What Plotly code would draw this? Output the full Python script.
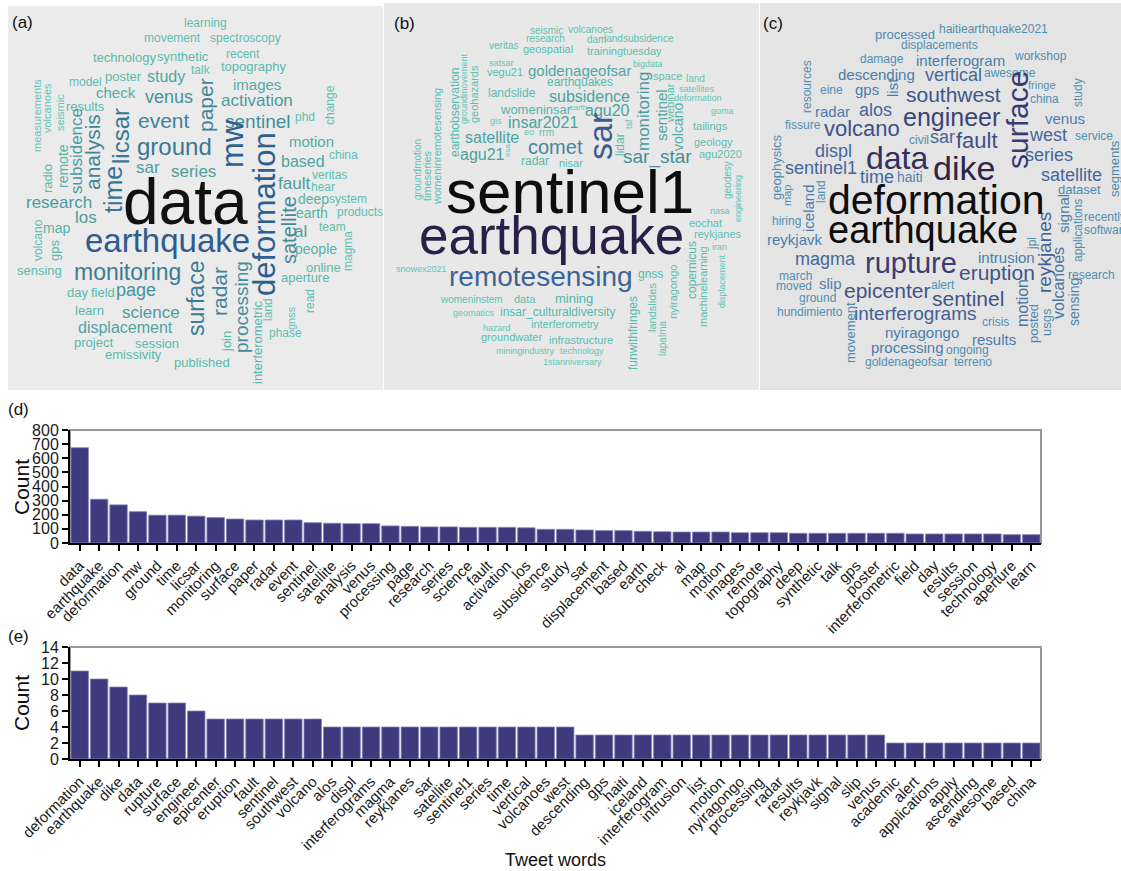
import plotly.graph_objects as go

# ---------------- bar chart data ----------------
words_d = ["data", "earthquake", "deformation", "mw", "ground", "time", "licsar", "monitoring",
           "surface", "paper", "radar", "event", "sentinel", "satellite", "analysis", "venus",
           "processing", "page", "research", "series", "science", "fault", "activation", "los",
           "subsidence", "study", "sar", "displacement", "based", "earth", "check", "al", "map",
           "motion", "images", "remote", "topography", "deep", "synthetic", "talk", "gps", "poster",
           "interferometric", "field", "day", "results", "session", "technology", "aperture", "learn"]
counts_d = [675, 310, 270, 222, 197, 197, 190, 180, 170, 163, 163, 163, 144, 140, 137, 137,
            121, 118, 114, 114, 111, 111, 111, 108, 97, 97, 92, 88, 88, 83, 80, 78, 78,
            78, 73, 73, 73, 69, 69, 69, 69, 69, 69, 64, 64, 64, 64, 64, 59, 59]

words_e = ["deformation", "earthquake", "dike", "data", "rupture", "surface", "engineer", "epicenter",
           "eruption", "fault", "sentinel", "southwest", "volcano", "alos", "displ", "interferograms",
           "magma", "reykjanes", "sar", "satellite", "sentinel1", "series", "time", "vertical",
           "volcanoes", "west", "descending", "gps", "haiti", "iceland", "interferogram", "intrusion",
           "list", "motion", "nyiragongo", "processing", "radar", "results", "reykjavk", "signal",
           "slip", "venus", "academic", "alert", "applications", "apply", "ascending", "awesome",
           "based", "china"]
counts_e = [11, 10, 9, 8, 7, 7, 6, 5, 5, 5, 5, 5, 5,
            4, 4, 4, 4, 4, 4, 4, 4, 4, 4, 4, 4, 4,
            3, 3, 3, 3, 3, 3, 3, 3, 3, 3, 3, 3, 3, 3, 3, 3,
            2, 2, 2, 2, 2, 2, 2, 2]

# ---------------- word cloud data ----------------
# (a)
cloud_a_words = ["learning", "movement", "spectroscopy", "technology", "synthetic", "recent", "topography",
                 "talk", "model", "poster", "study", "images", "check", "venus", "activation", "results",
                 "event", "sentinel", "phd", "ground", "motion", "based", "china", "sar", "series", "fault",
                 "veritas", "hear", "deep", "system", "earth", "products", "research", "los", "map", "data",
                 "earthquake", "monitoring", "sensing", "page", "day", "field", "learn", "science",
                 "displacement", "project", "session", "emissivity", "published", "aperture", "online",
                 "people", "team", "al", "phase",
                 "measurements", "volcanoes", "seismic", "remote", "radio", "subsidence", "analysis", "time",
                 "licsar", "paper", "mw", "deformation", "satellite", "change", "magma", "read", "gnss", "land",
                 "interferometric", "processing", "join", "radar", "surface", "volcano", "gps"]
cloud_a_x = [205, 172, 245, 124, 183, 243, 254, 201, 85, 123, 166, 257, 116, 169, 257, 85, 164, 258, 305,
             174, 311, 303, 343, 148, 193, 294, 329, 323, 313, 348, 312, 360, 59, 86, 56, 185, 167, 127,
             39, 136, 77, 103, 89, 151, 125, 93, 157, 133, 202, 305, 323, 316, 332, 300, 285,
             37, 47, 60, 63, 48, 77, 93, 113, 121, 206, 233, 265, 289, 330, 348, 310, 291, 268, 257,
             241, 226, 219, 196, 38, 55]
cloud_a_y = [23, 38, 38, 58, 57, 54, 67, 70, 82, 77, 77, 85, 93, 97, 101, 107, 121, 122, 117, 147, 142,
             162, 155, 168, 172, 184, 175, 187, 199, 199, 213, 212, 203, 218, 228, 202, 241, 272, 270,
             290, 292, 292, 310, 312, 327, 342, 343, 354, 362, 277, 267, 249, 227, 232, 333,
             116, 108, 113, 166, 179, 151, 152, 190, 136, 105, 144, 214, 230, 105, 251, 301, 318, 310,
             342, 307, 342, 292, 299, 240, 251]
cloud_a_size = [12, 12, 12, 13, 13, 12, 13, 12, 12, 13, 16, 15, 15, 18, 17, 13, 21, 19, 12, 24, 15, 16,
                12, 17, 17, 17, 12, 12, 14, 12, 14, 12, 17, 17, 14, 64, 33, 23, 13, 18, 13, 13, 13, 17,
                16, 13, 13, 13, 13, 13, 13, 14, 12, 17, 12,
                11, 11, 11, 14, 13, 17, 21, 25, 24, 21, 31, 31, 20, 12, 12, 12, 11, 12, 13, 19, 13, 21,
                23, 12, 13]
cloud_a_vert = [0] * 55 + [1] * 25

# (b)
cloud_b_words = ["seismic", "volcanoes", "research", "veritas", "dam", "landsubsidence", "geospatial",
                 "trainingtuesday", "satsar", "vegu21", "goldenageofsar", "bigdata", "space", "land",
                 "earthquakes", "landslide", "subsidence", "satellites", "deformation", "goma", "womeninsar",
                 "earth", "agu20", "gis", "insar2021", "tailings", "satellite", "eo", "rrm", "comet",
                 "geology", "agu21", "radar", "nisar", "sar_star", "agu2020", "sentinel1", "earthquake",
                 "remotesensing", "snowex2021", "gnss", "eochat", "reykjanes", "nasa", "iran", "womeninstem",
                 "data", "mining", "geomatics", "insar_culturaldiversity", "hazard", "interferometry",
                 "groundwater", "infrastructure", "miningindustry", "technology", "1stanniversary",
                 "groundmotion", "timeseries", "womeninremotesensing", "earthobservation", "groundmovement",
                 "geohazards", "esa", "sar", "monitoring", "lidar", "tsf", "sentinel", "webinar", "volcano",
                 "geodesy", "engineering", "copernicus", "machinelearning", "displacement", "nyiragongo",
                 "landslides", "lapalma", "funwithfringes"]
cloud_b_x = [546, 590, 545, 504, 596, 639, 548, 624, 502, 505, 579, 648, 667, 695, 580, 512, 589, 697,
             698, 722, 536, 578, 607, 496, 543, 710, 492, 529, 546, 555, 713, 483, 535, 571, 657, 720,
             570, 551, 541, 422, 650, 705, 718, 720, 719, 472, 525, 574, 474, 557, 497, 565, 512, 581,
             525, 582, 572,
             417, 427, 437, 455, 464, 474, 507, 600, 643, 620, 629, 661, 670, 678, 727, 738, 692, 703,
             722, 673, 652, 662, 633]
cloud_b_y = [30, 29, 38, 45, 39, 38, 49, 51, 63, 72, 70, 64, 76, 78, 82, 93, 96, 89, 98, 111, 109, 107,
             110, 121, 122, 126, 137, 132, 132, 147, 142, 154, 161, 163, 157, 154, 191, 235, 276, 269,
             274, 223, 234, 211, 247, 299, 299, 298, 313, 312, 328, 324, 337, 340, 351, 351, 362,
             169, 175, 146, 112, 88, 94, 150, 137, 112, 145, 124, 115, 103, 127, 180, 199, 270, 287,
             281, 292, 308, 339, 333]
cloud_b_size = [10, 10, 10, 10, 10, 10, 11, 11, 9, 11, 15, 9, 11, 10, 12, 12, 16, 9, 9, 9, 13, 8, 16, 9,
                16, 11, 16, 9, 10, 20, 11, 16, 12, 11, 19, 11, 62, 53, 28, 9, 12, 11, 11, 9, 9, 10, 11,
                13, 9, 12, 9, 11, 11, 11, 9, 9, 9,
                10, 11, 11, 12, 9, 11, 8, 34, 17, 12, 9, 15, 11, 14, 10, 9, 12, 11, 9, 11, 11, 10, 12]
cloud_b_vert = [0] * 57 + [1] * 23

# (c)
cloud_c_words = ["processed", "haitiearthquake2021", "displacements", "damage", "interferogram", "workshop",
                 "descending", "vertical", "awesome", "eine", "gps", "southwest", "fringe", "china", "radar",
                 "alos", "engineer", "venus", "fissure", "volcano", "west", "service", "civil", "sar", "fault",
                 "displ", "data", "dike", "series", "sentinel1", "time", "haiti", "satellite", "dataset",
                 "deformation", "earthquake", "hiring", "reykjavk", "recently", "software", "magma",
                 "rupture", "intrusion", "eruption", "research", "march", "moved", "slip", "epicenter",
                 "alert", "sentinel", "ground", "hundimiento", "interferograms", "crisis", "nyiragongo",
                 "results", "processing", "ongoing", "goldenageofsar", "terreno",
                 "resources", "list", "surface", "study", "geophysics", "map", "iceland", "land", "segments",
                 "signal", "applications", "reykjanes", "volcanoes", "sensing", "jpl", "motion", "posted",
                 "usgs", "movement"]
cloud_c_x = [905, 993, 939, 882, 960, 1040, 876, 953, 1010, 831, 867, 953, 1042, 1044, 832, 875, 951, 1065,
             803, 862, 1048, 1094, 919, 942, 977, 833, 897, 964, 1049, 821, 877, 910, 1071, 1079, 936,
             923, 786, 795, 1105, 1107, 825, 911, 1006, 997, 1091, 795, 794, 830, 887, 943, 968, 817,
             810, 915, 995, 922, 994, 907, 967, 906, 973,
             807, 892, 1017, 1078, 776, 787, 808, 821, 1114, 1063, 1078, 1044, 1058, 1074, 1032, 1022,
             1033, 1046, 850]
cloud_c_y = [34, 29, 45, 59, 60, 56, 74, 75, 73, 90, 89, 94, 85, 99, 111, 110, 117, 118, 125, 128, 135,
             136, 140, 137, 140, 151, 158, 168, 155, 168, 177, 177, 175, 189, 200, 230, 221, 239, 217,
             230, 259, 263, 257, 272, 275, 276, 286, 283, 290, 285, 298, 298, 312, 313, 322, 332, 339,
             347, 350, 362, 362,
             87, 88, 120, 93, 167, 196, 208, 192, 169, 214, 231, 253, 283, 302, 244, 303, 324, 322, 333]
cloud_c_size = [13, 12, 12, 12, 15, 12, 15, 18, 12, 12, 15, 21, 11, 12, 15, 18, 25, 15, 12, 22, 18, 12,
                12, 18, 22, 18, 32, 34, 18, 18, 18, 14, 18, 13, 41, 38, 12, 15, 12, 12, 18, 29, 15, 21,
                12, 12, 12, 15, 21, 12, 21, 12, 12, 19, 12, 15, 15, 15, 12, 12, 12,
                12, 15, 30, 12, 13, 11, 15, 12, 13, 15, 12, 19, 16, 14, 12, 16, 13, 13, 13]
cloud_c_vert = [0] * 61 + [1] * 19

# ---------------- styling helpers ----------------
FONT = "Arial, 'Liberation Sans', sans-serif"

ramp_a = [(11, "#66c6b5"), (13, "#5abaaa"), (16, "#4fa5a2"), (18, "#47939c"), (21, "#3f8596"),
          (24, "#3a7793"), (31, "#2f5f8e"), (34, "#2e5a8b"), (60, "#111111")]
ramp_b = [(9, "#62c7b4"), (12, "#57bbab"), (16, "#4ba2a0"), (20, "#43899a"), (28, "#3d6497"),
          (34, "#3d5a8e"), (53, "#2a1f48"), (62, "#0d0d0d")]
ramp_c = [(11, "#5292b3"), (12, "#5090b2"), (15, "#4b7eaa"), (18, "#45679c"), (21, "#3f5589"),
          (25, "#3b4479"), (30, "#3a3a72"), (34, "#2d2546"), (38, "#0d0d0d")]


def hex2rgb(h):
    h = h.lstrip("#")
    return tuple(int(h[i:i + 2], 16) for i in (0, 2, 4))


def ramp_color(stops, s):
    if s <= stops[0][0]:
        return stops[0][1]
    if s >= stops[-1][0]:
        return stops[-1][1]
    for (s0, c0), (s1, c1) in zip(stops[:-1], stops[1:]):
        if s0 <= s <= s1:
            t = (s - s0) / (s1 - s0)
            a, b = hex2rgb(c0), hex2rgb(c1)
            r = [round(a[i] + (b[i] - a[i]) * t) for i in range(3)]
            return "rgb(%d,%d,%d)" % tuple(r)
    return stops[-1][1]


W, H = 1121, 871
fig = go.Figure()

panels = [
    ("", (8, 383, 6, 390), "#ebebeb", cloud_a_words, cloud_a_x, cloud_a_y, cloud_a_size, cloud_a_vert, ramp_a, "(a)", (22, 23)),
    ("2", (384, 759, 3, 390), "#e8e8e8", cloud_b_words, cloud_b_x, cloud_b_y, cloud_b_size, cloud_b_vert, ramp_b, "(b)", (405, 23)),
    ("3", (760, 1121, 3, 390), "#e4e4e4", cloud_c_words, cloud_c_x, cloud_c_y, cloud_c_size, cloud_c_vert, ramp_c, "(c)", (773, 23)),
]

annotations = []
shapes = []
layout_axes = {}

for suf, (x0, x1, y0, y1), bg, wds, xs, ys, szs, vts, rmp, lab, lpos in panels:
    xa, ya = "x" + suf, "y" + suf
    layout_axes["xaxis" + suf] = dict(domain=[x0 / W, x1 / W], range=[x0, x1], visible=False,
                                      anchor=ya, fixedrange=True)
    layout_axes["yaxis" + suf] = dict(domain=[1 - y1 / H, 1 - y0 / H], range=[y1, y0], visible=False,
                                      anchor=xa, fixedrange=True)
    fig.add_trace(go.Scatter(x=[x0, x1], y=[y0, y1], mode="markers", marker=dict(opacity=0),
                             xaxis=xa, yaxis=ya, hoverinfo="skip", showlegend=False))
    shapes.append(dict(type="rect", xref=xa + " domain", yref=ya + " domain", x0=0, x1=1, y0=0, y1=1,
                       fillcolor=bg, line=dict(width=0), layer="below"))
    for w, x, y, s, v in zip(wds, xs, ys, szs, vts):
        annotations.append(dict(text=w, x=x, y=y, xref=xa, yref=ya, showarrow=False,
                                textangle=-90 if v else 0, xanchor="center", yanchor="middle",
                                borderpad=0,
                                font=dict(family=FONT, size=s, color=ramp_color(rmp, s))))
    annotations.append(dict(text=lab, x=lpos[0], y=lpos[1], xref=xa, yref=ya, showarrow=False,
                            xanchor="center", yanchor="middle",
                            font=dict(family=FONT, size=17, color="#111")))

# ---------------- bar charts ----------------
BAR = "#3e3a7d"
bar_panels = [
    ("4", words_d, counts_d, (430, 543), 800, 100, "(d)", 410, 487),
    ("5", words_e, counts_e, (647, 759), 14, 2, "(e)", 636, 703),
]
for suf, wds, cnts, (top, bot), ymax, dt, lab, laby, county in bar_panels:
    xa, ya = "x" + suf, "y" + suf
    fig.add_trace(go.Bar(x=wds, y=cnts, xaxis=xa, yaxis=ya,
                         marker=dict(color=BAR, line=dict(color="#8a87b8", width=0.8)),
                         showlegend=False))
    layout_axes["xaxis" + suf] = dict(domain=[70 / W, 1041 / W], anchor=ya, type="category",
                                      tickmode="linear", tick0=0, dtick=1, tickangle=-45,
                                      ticks="outside", ticklen=6, tickwidth=2, tickcolor="black",
                                      showline=True, linecolor="black", linewidth=2,
                                      showgrid=False, automargin=False,
                                      tickfont=dict(family=FONT, size=15, color="#1a1a1a"))
    layout_axes["yaxis" + suf] = dict(domain=[1 - bot / H, 1 - top / H], anchor=xa, range=[0, ymax],
                                      dtick=dt, ticks="outside", ticklen=6, tickwidth=2, tickcolor="black",
                                      showline=True, linecolor="black", linewidth=2,
                                      showgrid=False, zeroline=False, automargin=False,
                                      tickfont=dict(family=FONT, size=16, color="#1a1a1a"))
    shapes.append(dict(type="rect", xref=xa + " domain", yref=ya + " domain", x0=0, x1=1, y0=0, y1=1,
                       line=dict(color="#999999", width=2), fillcolor="rgba(0,0,0,0)", layer="below"))
    annotations.append(dict(text=lab, x=18 / W, y=1 - laby / H, xref="paper", yref="paper", showarrow=False,
                            xanchor="center", yanchor="middle", font=dict(family=FONT, size=17, color="#111")))
    annotations.append(dict(text="Count", x=21 / W, y=1 - county / H, xref="paper", yref="paper",
                            showarrow=False, textangle=-90, xanchor="center", yanchor="middle",
                            font=dict(family=FONT, size=21, color="#111")))

annotations.append(dict(text="Tweet words", x=555 / W, y=1 - 860 / H, xref="paper", yref="paper",
                        showarrow=False, xanchor="center", yanchor="middle",
                        font=dict(family=FONT, size=18, color="#111")))

fig.update_layout(width=W, height=H, margin=dict(l=0, r=0, t=0, b=0), paper_bgcolor="white",
                  plot_bgcolor="white", bargap=0.1, annotations=annotations, shapes=shapes,
                  showlegend=False, font=dict(family=FONT), **layout_axes)

fig.write_html("out.html", config={"displayModeBar": False},
               post_script="document.body.style.margin='0px';document.body.style.overflow='hidden';")
